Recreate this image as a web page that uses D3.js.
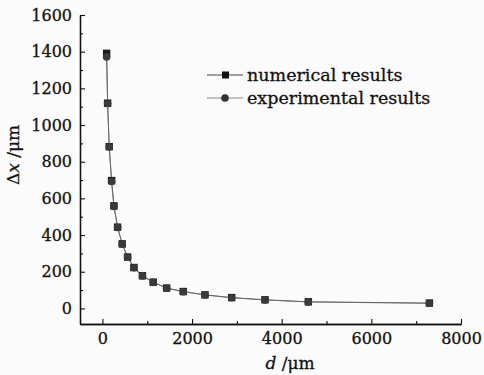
<!DOCTYPE html>
<html><head><meta charset="utf-8">
<script src="https://cdn.jsdelivr.net/npm/d3@7"></script>
<style>
html,body{margin:0;padding:0;background:#fbfbfb;}
svg{display:block;}
text{font-family:"DejaVu Serif",serif;fill:#111;stroke:#111;stroke-width:0.3px;}
</style></head>
<body>
<svg id="chart" width="484" height="375"></svg>
<script>
const dValues = [94,116,152,205,257,339,442,562,703,893,1134,1433,1804,2288,2884,3627,4594,7295];
const numericalResults = [1391,1119,882,697,559,443,352,280,223,178,143,111,92,74,59,47,36,29];
const experimentalResults = [1371,1117,880,692,556,441,350,279,222,177,142,110,91,73,58,46,35,28];
const xTicks = [0,2000,4000,6000,8000];
const yTicks = [0,200,400,600,800,1000,1200,1400,1600];
const seriesNames = ["numerical results","experimental results"];

const svg = d3.select("#chart");
const x = d3.scaleLinear().domain([-500,8000]).range([80,461]);
const y = d3.scaleLinear().domain([-85,1600]).range([324,15]);
const fmt = d3.format("d");

// axes
const xAxis = d3.axisBottom(x).tickValues(xTicks).tickFormat(fmt).tickSize(-5).tickPadding(9).tickSizeOuter(0);
const xMinor = d3.axisBottom(x).tickValues(d3.range(1000,8000,2000)).tickSize(-3).tickFormat("").tickSizeOuter(0);
const yAxis = d3.axisLeft(y).tickValues(yTicks).tickFormat(fmt).tickSize(-5).tickPadding(8).tickSizeOuter(0);
const yMinor = d3.axisLeft(y).tickValues(d3.range(100,1600,200)).tickSize(-3).tickFormat("").tickSizeOuter(0);

function style(g){
  g.select(".domain").attr("stroke","#111").attr("stroke-width",1.3);
  g.selectAll(".tick line").attr("stroke","#111").attr("stroke-width",1.1);
  g.selectAll(".tick text").attr("font-size",16).attr("font-family","DejaVu Serif").attr("fill","#111");
}
svg.append("g").attr("transform","translate(0,324)").call(xMinor).call(style);
svg.append("g").attr("transform","translate(0,324)").call(xAxis).call(style);
svg.append("g").attr("transform","translate(80,0)").call(yMinor).call(style);
svg.append("g").attr("transform","translate(80,0)").call(yAxis).call(style);

// lines
const line = (vals)=>d3.line().x((d,i)=>x(dValues[i])).y(d=>y(d))(vals);
svg.append("path").attr("d",line(experimentalResults)).attr("fill","none").attr("stroke","#888").attr("stroke-width",1);
svg.append("path").attr("d",line(numericalResults)).attr("fill","none").attr("stroke","#666").attr("stroke-width",1);

// markers
svg.append("g").selectAll("rect").data(numericalResults).join("rect")
  .attr("x",(d,i)=>x(dValues[i])-3.7).attr("y",d=>y(d)-3.7)
  .attr("width",7.4).attr("height",7.4).attr("fill","#1a1a1a");
svg.append("g").selectAll("circle").data(experimentalResults).join("circle")
  .attr("cx",(d,i)=>x(dValues[i])).attr("cy",d=>y(d)).attr("r",3.8).attr("fill","#3a3a3a");

// legend
const lg = svg.append("g");
[0,1].forEach(k=>{
  const yy = 75 + k*23;
  lg.append("line").attr("x1",207).attr("x2",243).attr("y1",yy).attr("y2",yy)
    .attr("stroke",k?"#888":"#444").attr("stroke-width",1);
  if(k===0) lg.append("rect").attr("x",222).attr("y",yy-3.5).attr("width",7).attr("height",7).attr("fill","#111");
  else lg.append("circle").attr("cx",225).attr("cy",yy).attr("r",3.8).attr("fill","#333");
  lg.append("text").attr("x",247).attr("y",yy+5.5).attr("font-size",17.5).text(seriesNames[k]);
});

// axis titles
const yt = svg.append("text").attr("transform","translate(19,155) rotate(-90)")
  .attr("text-anchor","middle").attr("font-size",17);
yt.append("tspan").text("Δ");
yt.append("tspan").attr("font-style","italic").text("x");
yt.append("tspan").text(" /μm");
const xt = svg.append("text").attr("x",290).attr("y",369).attr("text-anchor","middle").attr("font-size",17);
xt.append("tspan").attr("font-style","italic").text("d");
xt.append("tspan").text(" /μm");
</script>
</body></html>
